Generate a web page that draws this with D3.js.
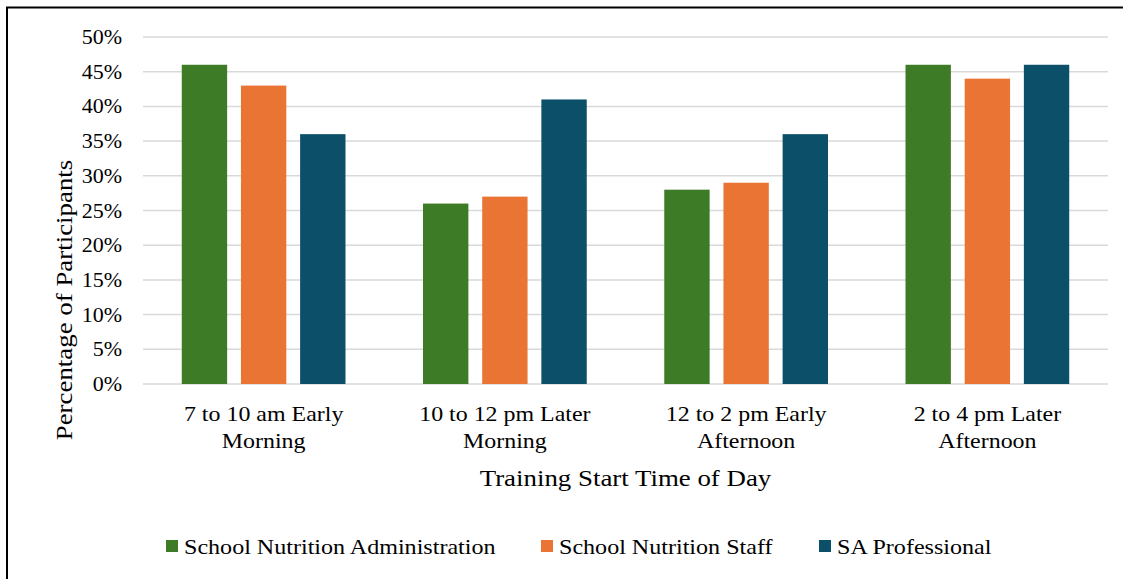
<!DOCTYPE html>
<html>
<head>
<meta charset="utf-8">
<script src="https://cdn.jsdelivr.net/npm/d3@7"></script>
<style>
  html, body { margin: 0; padding: 0; background: #fff; }
  svg { display: block; }
  svg text { font-family: "Liberation Serif", "Times New Roman", serif; fill: #000; }
</style>
</head>
<body>
<svg id="chart" width="1123" height="579"></svg>
<script>
// Preferred training start time, share of participants by role
const categories = [
  ["7 to 10 am Early", "Morning"],
  ["10 to 12 pm Later", "Morning"],
  ["12 to 2 pm Early", "Afternoon"],
  ["2 to 4 pm Later", "Afternoon"]
];
const seriesNames = ["School Nutrition Administration", "School Nutrition Staff", "SA Professional"];
const adminValues = [46, 26, 28, 46];
const staffValues = [43, 27, 29, 44];
const saValues = [36, 41, 36, 46];
const yTicks = [0, 5, 10, 15, 20, 25, 30, 35, 40, 45, 50];
const colors = ["#3E7B27", "#EA7434", "#0B4F69"];

const seriesValues = [adminValues, staffValues, saValues];

const svg = d3.select("#chart");
const W = 1123, H = 579;

// Text is set in a slightly widened serif face: each label sits in its own
// group that is translated to the anchor point and stretched along the baseline.
function label(parent, x, y, str, opts = {}) {
  const sx = opts.sx || 1.1;
  const rot = opts.rotate ? ` rotate(${opts.rotate})` : "";
  const g = parent.append("g").attr("transform", `translate(${x},${y})${rot} scale(${sx},1)`);
  return g.append("text")
    .attr("x", 0).attr("y", 0)
    .attr("text-anchor", opts.anchor || "start")
    .attr("font-size", opts.size || 21)
    .text(str);
}

// outer frame (top and left edges)
svg.append("path")
  .attr("d", `M7,${H} L7,7.5 L${W},7.5`)
  .attr("fill", "none").attr("stroke", "#000").attr("stroke-width", 2);

const plot = { left: 143, right: 1108, top: 37, bottom: 384 };

const x = d3.scaleBand()
  .domain(d3.range(categories.length))
  .range([plot.left, plot.right])
  .paddingInner(0).paddingOuter(0);

const inner = d3.scaleBand()
  .domain(d3.range(seriesNames.length))
  .range([0, x.bandwidth()])
  .paddingInner(14 / 60)
  .paddingOuter(0.655);

const y = d3.scaleLinear().domain([0, 50]).range([plot.bottom, plot.top]);

// gridlines
svg.append("g")
  .selectAll("line")
  .data(yTicks)
  .join("line")
  .attr("x1", plot.left).attr("x2", plot.right)
  .attr("y1", d => y(d)).attr("y2", d => y(d))
  .attr("stroke", "#d9d9d9").attr("stroke-width", 1.5);

// y tick labels
const yg = svg.append("g");
yTicks.forEach(t => {
  label(yg, plot.left - 21, y(t) + 7, t + "%", { anchor: "end", size: 20, sx: 1.1 });
});

// bars
const groups = svg.append("g")
  .selectAll("g")
  .data(categories.map((c, i) => i))
  .join("g")
  .attr("transform", i => `translate(${x(i)},0)`);

groups.selectAll("rect")
  .data(i => seriesValues.map((vals, s) => ({ s, v: vals[i] })))
  .join("rect")
  .attr("x", d => inner(d.s))
  .attr("width", inner.bandwidth())
  .attr("y", d => y(d.v))
  .attr("height", d => y(0) - y(d.v))
  .attr("fill", d => colors[d.s]);

// category labels (two lines each)
const xl = svg.append("g");
categories.forEach((lines, i) => {
  const cx = x(i) + x.bandwidth() / 2;
  lines.forEach((ln, k) => {
    label(xl, cx, 421 + k * 27, ln, { anchor: "middle", size: 21, sx: 1.14 });
  });
});

// axis titles
label(svg, (plot.left + plot.right) / 2, 486, "Training Start Time of Day", { anchor: "middle", size: 24, sx: 1.12 });
label(svg, 72, 300, "Percentage of Participants", { anchor: "middle", size: 24, sx: 1.12, rotate: -90 });

// legend
const legendX = [166, 541, 819];
const legend = svg.append("g");
seriesNames.forEach((name, s) => {
  legend.append("rect")
    .attr("x", legendX[s]).attr("y", 540)
    .attr("width", 12).attr("height", 12)
    .attr("fill", colors[s]);
  label(legend, legendX[s] + 18, 554, name, { size: 22, sx: 1.095 });
});
</script>
</body>
</html>
